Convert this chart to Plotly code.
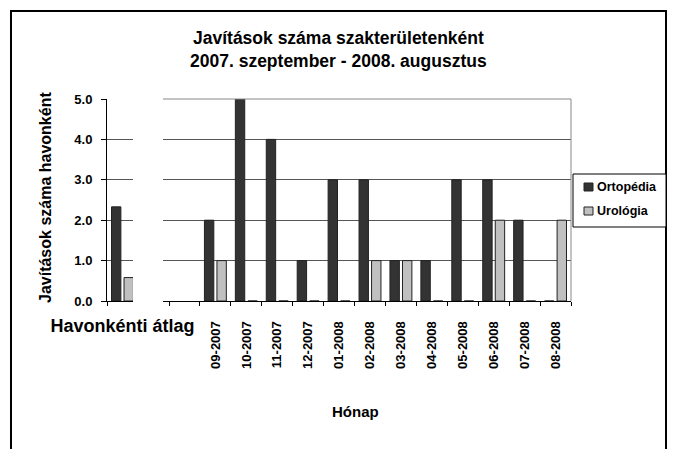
import plotly.graph_objects as go

# ---- data ----
avg_category = ["Havonkénti átlag"]
avg_ortopedia = [2.33]
avg_urologia = [0.58]

months = ["09-2007", "10-2007", "11-2007", "12-2007", "01-2008", "02-2008",
          "03-2008", "04-2008", "05-2008", "06-2008", "07-2008", "08-2008"]
ortopedia = [2, 5, 4, 1, 3, 3, 1, 1, 3, 3, 2, 0]
urologia = [1, 0, 0, 0, 0, 1, 1, 0, 0, 2, 0, 2]

series_names = ["Ortopédia", "Urológia"]
y_ticks = [0, 1, 2, 3, 4, 5]

title_lines = ["Javítások száma szakterületenként", "2007. szeptember - 2008. augusztus"]
y_title = "Javítások száma havonként"
x_title = "Hónap"

# ---- styling ----
W, H = 675, 449
OFF = 8  # page body margin
FONT = "Liberation Sans, Arial, sans-serif"
DARK = "#333333"
LIGHT = "#c0c0c0"
GRID = "#555555"
EDGE = "#222222"
series_colors = [DARK, LIGHT]


def px_x(p):
    return (p - OFF) / W


def px_y(p):
    return 1 - (p - OFF) / H


plot_top, plot_bot = 99, 301
ydom = [px_y(plot_bot), px_y(plot_top)]

fig = go.Figure()

# left (average) subplot
for name, vals, col in zip(series_names, [avg_ortopedia, avg_urologia], series_colors):
    fig.add_trace(go.Bar(x=avg_category, y=vals, name=name,
                         marker=dict(color=col, line=dict(color=EDGE, width=1)),
                         xaxis="x", yaxis="y", showlegend=False))

# right (monthly) subplot
for name, vals, col in zip(series_names, [ortopedia, urologia], series_colors):
    fig.add_trace(go.Bar(x=months, y=vals, name=name,
                         marker=dict(color=col, line=dict(color=EDGE, width=1)),
                         xaxis="x2", yaxis="y2", showlegend=False))

cat_px = 30.92
left_x0, left_x1 = 107, 133
right_x0, right_x1 = 163, 571

fig.update_layout(
    width=W, height=H,
    margin=dict(l=0, r=0, t=0, b=0, autoexpand=False),
    paper_bgcolor="white", plot_bgcolor="white",
    font=dict(family=FONT, color="black", size=12, weight="bold"),
    barmode="group", bargap=0.19, bargroupgap=0.25,
    showlegend=False,
    xaxis=dict(domain=[px_x(left_x0), px_x(left_x1)], type="category",
               range=[-0.5, -0.5 + (left_x1 - left_x0) / cat_px],
               showline=True, linecolor="black", linewidth=1,
               ticks="outside", ticklen=4, tickcolor="black", tickson="boundaries",
               tickangle=0, tickfont=dict(size=18, weight="bold"),
               ticklabelstandoff=8, showgrid=False, fixedrange=True),
    yaxis=dict(domain=ydom, range=[0, 5], tickvals=y_ticks, tickformat=".1f",
               showline=True, linecolor="black", linewidth=1,
               ticks="outside", ticklen=5, tickcolor="black",
               showgrid=True, gridcolor=GRID, gridwidth=1, zeroline=False,
               tickfont=dict(size=13, weight="bold"), ticklabelstandoff=6),
    xaxis2=dict(domain=[px_x(right_x0), px_x(right_x1)], type="category",
                categoryorder="array", categoryarray=[" "] + months,
                range=[-0.5 - (169 - right_x0) / cat_px, 12.5],
                showline=True, linecolor="black", linewidth=1,
                ticks="outside", ticklen=4, tickcolor="black", tickson="boundaries",
                tickangle=-90, tickfont=dict(size=13, weight="bold"),
                ticklabelstandoff=14, showgrid=False, anchor="y2"),
    yaxis2=dict(domain=ydom, range=[0, 5], tickvals=y_ticks, anchor="x2",
                showticklabels=False, showline=False, ticks="",
                showgrid=True, gridcolor=GRID, gridwidth=1, zeroline=False),
)

# legend box geometry (pixels)
leg_x0, leg_x1, leg_y0, leg_y1 = 573, 666, 174, 227
leg_rows = [187, 211]

shapes = [
    # outer chart border
    dict(type="rect", xref="paper", yref="paper",
         x0=px_x(11), x1=px_x(666), y0=px_y(470), y1=px_y(11),
         line=dict(color="black", width=2), fillcolor="rgba(0,0,0,0)", layer="above"),
    # plot area border (top, right)
    dict(type="line", xref="paper", yref="paper",
         x0=px_x(right_x0), x1=px_x(right_x1), y0=px_y(plot_top), y1=px_y(plot_top),
         line=dict(color="#888888", width=1)),
    dict(type="line", xref="paper", yref="paper",
         x0=px_x(right_x1), x1=px_x(right_x1), y0=px_y(plot_top), y1=px_y(plot_bot),
         line=dict(color="#888888", width=1)),
    # legend box
    dict(type="rect", xref="paper", yref="paper",
         x0=px_x(leg_x0), x1=px_x(leg_x1), y0=px_y(leg_y1), y1=px_y(leg_y0),
         line=dict(color="black", width=1), fillcolor="white"),
]
annotations = [
    dict(text=title_lines[0], x=px_x(338), y=px_y(38), xref="paper", yref="paper",
         xanchor="center", yanchor="middle", showarrow=False,
         font=dict(family=FONT, size=17.5, weight="bold")),
    dict(text=title_lines[1], x=px_x(338), y=px_y(61), xref="paper", yref="paper",
         xanchor="center", yanchor="middle", showarrow=False,
         font=dict(family=FONT, size=17.5, weight="bold")),
    dict(text=y_title, x=px_x(45), y=px_y(198), xref="paper", yref="paper",
         xanchor="center", yanchor="middle", showarrow=False, textangle=-90,
         font=dict(family=FONT, size=16, weight="bold")),
    dict(text=x_title, x=px_x(355), y=px_y(411), xref="paper", yref="paper",
         xanchor="center", yanchor="middle", showarrow=False,
         font=dict(family=FONT, size=15, weight="bold")),
]
for name, col, yc in zip(series_names, series_colors, leg_rows):
    shapes.append(dict(type="rect", xref="paper", yref="paper",
                       x0=px_x(584), x1=px_x(593), y0=px_y(yc + 4), y1=px_y(yc - 4),
                       line=dict(color=EDGE, width=1), fillcolor=col))
    annotations.append(dict(text=name, x=px_x(595), y=px_y(yc), xref="paper", yref="paper",
                            xanchor="left", yanchor="middle", showarrow=False,
                            font=dict(family=FONT, size=12.5, weight="bold")))

fig.update_layout(shapes=shapes, annotations=annotations)

fig.write_html("out.html")
